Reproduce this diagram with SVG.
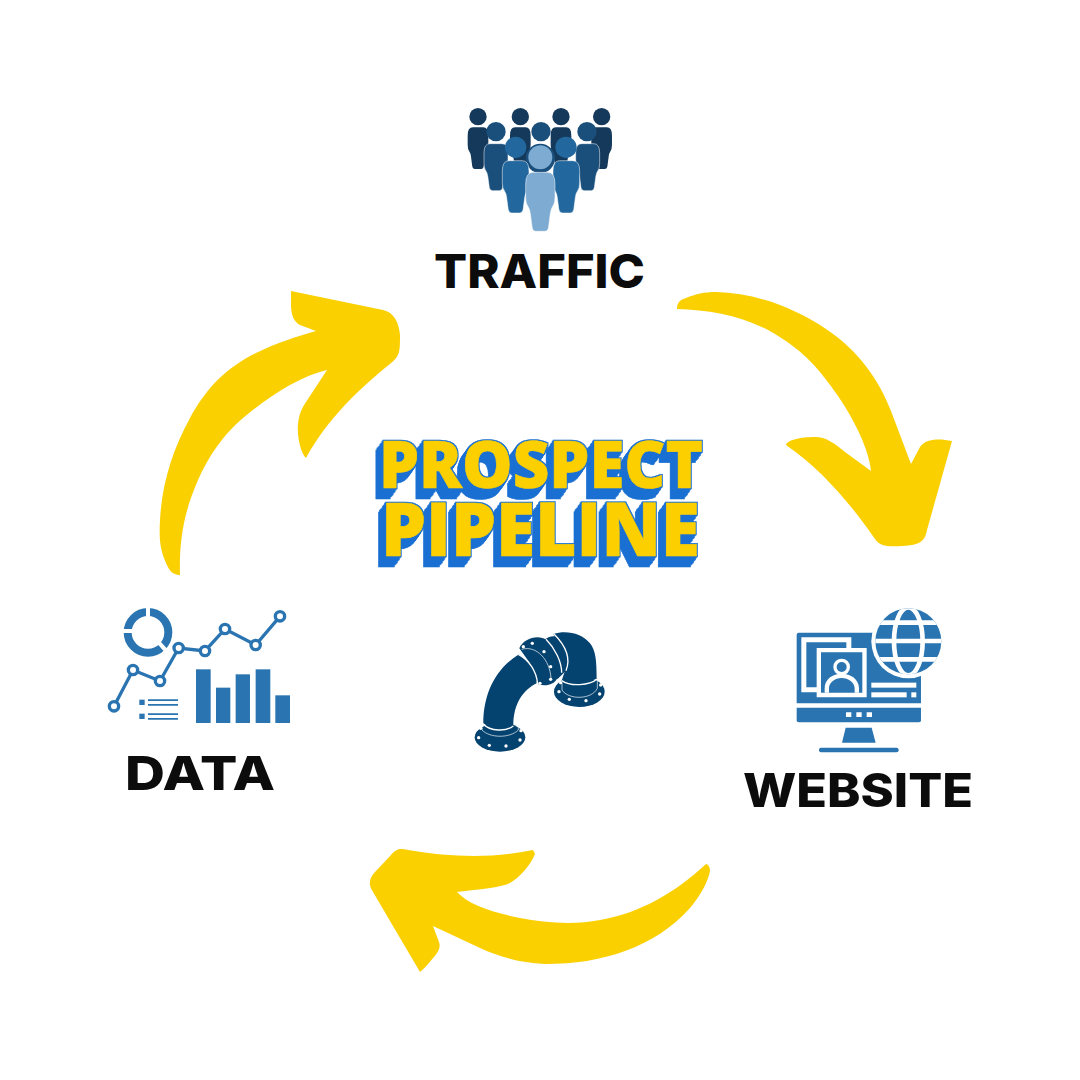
<svg xmlns="http://www.w3.org/2000/svg" width="1080" height="1080" viewBox="0 0 1080 1080">
<style>
.lbl{font-family:"Inter","Liberation Sans",sans-serif;font-weight:800;font-size:47px;fill:#0c0c0c}
.tt{font-family:"Open Sans","Liberation Sans",sans-serif;font-weight:800;fill:#fccf00;stroke:#fccf00;stroke-width:.6px;filter:url(#ext)}
.arrow{fill:#fad000}
.b{fill:#2a75b1}
.w{fill:#fff}
.bd{vector-effect:non-scaling-stroke;stroke:#fff;stroke-width:.5}
.pipe{fill:#04426f}
</style>
<defs>
<filter id="ext" x="-10%" y="-10%" width="120%" height="140%" color-interpolation-filters="sRGB">
<feMorphology in="SourceAlpha" operator="dilate" radius="1" result="a"/>
<feOffset in="a" dx="-1" dy="1.4" result="o1"/>
<feOffset in="a" dx="-2" dy="2.8" result="o2"/>
<feOffset in="a" dx="-3" dy="4.2" result="o3"/>
<feOffset in="a" dx="-4" dy="5.6" result="o4"/>
<feOffset in="a" dx="-5" dy="7" result="o5"/>
<feOffset in="a" dx="-6" dy="8.4" result="o6"/>
<feOffset in="a" dx="-7" dy="9.800" result="o7"/>
<feMerge result="m"><feMergeNode in="a"/><feMergeNode in="o1"/><feMergeNode in="o2"/><feMergeNode in="o3"/><feMergeNode in="o4"/><feMergeNode in="o5"/><feMergeNode in="o6"/><feMergeNode in="o7"/></feMerge>
<feFlood flood-color="#1a70d2"/>
<feComposite in2="m" operator="in" result="s"/>
<feMerge><feMergeNode in="s"/><feMergeNode in="SourceGraphic"/></feMerge>
</filter>
<path id="body" class="bd" d="M-.5 .2Q-.5 0-.25 0H.25Q.5 0 .5 .2V.42Q.5 .53 .42 .58Q.36 .62 .34 .7L.28 .93Q.26 1 .15 1H-.15Q-.26 1-.28 .93L-.34 .7Q-.36 .62-.42 .58Q-.5 .53-.5 .42Z"/>
<path id="bd2" d="M-.5 .2Q-.5 0-.25 0H.25Q.5 0 .5 .2V.42Q.5 .53 .42 .58Q.36 .62 .34 .7L.28 .93Q.26 1 .15 1H-.15Q-.26 1-.28 .93L-.34 .7Q-.36 .62-.42 .58Q-.5 .53-.5 .42Z"/>
<clipPath id="gl"><circle cx="385" cy="139" r="99"/></clipPath>
</defs>
<rect width="1080" height="1080" fill="#fff"/>

<g id="connectors">
<path class="arrow" d="M677 309C677 302 680 300 686 298C696 294 704 292 716 292C755 293 793 307 826 329C859 351 879 380 891 411L911 464L920 447C925 439 938 438 952 441L927 530C925 541 920 545 903 546C886 547 880 546 875 539C850 503 822 470 786 445C787 440 800 437 815 437C826 437 834 443 845 452L871 471C869 450 855 421 838 396C820 370 805 352 775 334C745 316 710 310 677 309Z"/>
<path class="arrow" d="M291 291L383 310C394 312 399 323 400 335C400 352 400 356 390 364C360 388 328 418 306 458C300 452 297 435 298 424C299 414 302 408 306 402L327 370C300 376 268 397 243 418C224 434 209 455 198 480C184 512 179 540 180 575C172 575 169 570 166 563C160 549 159 540 160 520C162 484 172 451 190 418C207 387 226 368 256 353C276 343 298 336 316 331L300 325C294 322 291 315 291 305Z"/>
<path class="arrow" d="M706 864C708 864 710 867 710 871C708 882 700 896 690 908C672 928 650 942 625 951C600 960 575 964 545 964C520 963 500 957 480 948L433 926L439 942C441 948 438 952 434 957C429 963 425 968 420 972L373 892C368 884 369 879 375 872L391 855C396 849 400 848 408 850C450 857 490 859 533 850L535 854C530 866 520 877 510 883C500 888 480 889 457 892C468 904 490 912 520 918C545 923 575 925 600 920C640 913 675 893 706 864Z"/>
</g>

<g id="title">
<text class="tt" x="379" y="488" font-size="65" textLength="324" lengthAdjust="spacingAndGlyphs">PROSPECT</text>
<text class="tt" x="381" y="556" font-size="74" textLength="319" lengthAdjust="spacingAndGlyphs">PIPELINE</text>
</g>

<g id="traffic">
<g transform="translate(460 100) scale(.3333)">
<g fill="#15395a">
<circle cx="54" cy="50" r="26"/><circle cx="181" cy="50" r="26"/><circle cx="303" cy="50" r="26"/><circle cx="425" cy="50" r="26"/>
<use href="#bd2" transform="translate(54 82) scale(62 125)"/><use href="#bd2" transform="translate(181 82) scale(62 125)"/><use href="#bd2" transform="translate(303 82) scale(62 125)"/><use href="#bd2" transform="translate(425 82) scale(62 125)"/>
</g>
<g fill="#1a4f7c">
<circle cx="108" cy="95" r="29"/><circle cx="243" cy="95" r="29"/><circle cx="381" cy="95" r="29"/>
<use href="#body" transform="translate(108 131) scale(72 141)"/><use href="#body" transform="translate(383 131) scale(72 141)"/>
<circle cx="241" cy="175" r="44"/>
</g>
<g fill="#22689f">
<circle cx="167" cy="142" r="32"/><circle cx="318" cy="142" r="32"/>
<use href="#body" transform="translate(167 182) scale(80 157)"/><use href="#body" transform="translate(319 182) scale(80 157)"/>
</g>
<g fill="#7eabd1">
<circle cx="241" cy="172" r="36"/>
<use href="#body" transform="translate(241 217) scale(88 177)"/>
</g>
</g>
<text class="lbl" x="434" y="288" textLength="211" lengthAdjust="spacingAndGlyphs">TRAFFIC</text>
</g>

<g id="website">
<g transform="translate(780 595) scale(.3333)">
<path class="b" d="M56 113H423V325H50V119Q50 113 56 113Z"/>
<path class="b" d="M50 338H423V376Q423 382 417 382H56Q50 382 50 376Z"/>
<path class="w" d="M198 352h16v14h-16zM229 352h16v14h-16zM260 352h16v14h-16z"/>
<path class="b" d="M197 398H275L287 443H186Z"/>
<rect class="b" x="117" y="458" width="239" height="14" rx="6"/>
<path class="w" fill-rule="evenodd" d="M64 127H214V159H260V307H110V292H64ZM79 142V277H110V159H199V142ZM123 172V293H247V172Z"/>
<circle class="w" cx="185" cy="216" r="25"/><circle class="b" cx="185" cy="216" r="15"/>
<path class="w" d="M134 293V280C134 252 158 236 185 236C212 236 237 252 237 280V293H224V280C224 262 205 249 185 249C165 249 147 262 147 280V293Z"/>
<rect class="w" x="274" y="263" width="135" height="15"/><rect class="w" x="274" y="292" width="106" height="15"/><rect class="w" x="394" y="292" width="15" height="15"/>
<circle class="w" cx="385" cy="139" r="111"/>
<circle class="b" cx="385" cy="139" r="99"/>
<g fill="none" stroke="#fff" stroke-width="14" clip-path="url(#gl)">
<ellipse cx="385" cy="139" rx="43" ry="102"/>
<path d="M280 83H490M275 138H495M280 193H490"/>
</g>
</g>
<text class="lbl" x="743" y="807" textLength="230" lengthAdjust="spacingAndGlyphs">WEBSITE</text>
</g>

<g id="data">
<g transform="translate(100 600) scale(.3333)">
<circle cx="144" cy="97" r="61" fill="none" stroke="#2a75b1" stroke-width="24"/>
<rect class="w" x="138" y="20" width="12" height="30"/>
<rect class="w" x="66" y="87" width="30" height="12"/>
<path fill="none" stroke="#fff" stroke-width="12" d="M168 118L198 152"/>
<path fill="none" stroke="#2a75b1" stroke-width="10" d="M42 319L99 210L180 243L236 144L315 153L375 87L467 135L540 49"/>
<g fill="#fff" stroke="#2a75b1" stroke-width="10">
<circle cx="42" cy="319" r="14"/><circle cx="99" cy="210" r="14"/><circle cx="180" cy="243" r="14"/><circle cx="236" cy="144" r="14"/><circle cx="315" cy="153" r="14"/><circle cx="375" cy="87" r="14"/><circle cx="467" cy="135" r="14"/><circle cx="540" cy="49" r="14"/>
</g>
<rect class="b" x="118" y="299" width="16" height="16"/><rect class="b" x="118" y="341" width="16" height="16"/>
<path class="b" d="M144 298H234V303H144ZM144 312H234V317H144ZM144 340H234V345H144ZM144 354H234V359H144Z"/>
<rect class="b" x="288" y="208" width="44" height="161"/>
<rect class="b" x="348" y="263" width="43" height="106"/>
<rect class="b" x="407" y="223" width="43" height="146"/>
<rect class="b" x="467" y="208" width="44" height="161"/>
<rect class="b" x="526" y="286" width="44" height="83"/>
</g>
<text class="lbl" x="125" y="790" textLength="150" lengthAdjust="spacingAndGlyphs">DATA</text>
</g>

<g id="pipe">
<g transform="translate(450 620) scale(.3333)">
<g class="pipe">
<ellipse cx="388" cy="215" rx="76" ry="46"/>
<path d="M310 42C350 30 395 40 420 70C437 92 440 120 440 178L335 182L345 152C350 130 345 95 325 70Z"/>
<path d="M285 58C300 48 315 45 325 55C350 85 362 130 345 155L322 178Z"/>
<path d="M208 85C220 55 265 42 290 60C318 95 330 140 322 175C310 197 285 200 262 192L240 130Z"/>
<ellipse cx="150" cy="352" rx="76" ry="43"/>
<path d="M100 310C100 230 130 150 207 103C235 120 258 150 260 190C220 210 190 250 190 318L150 345Z"/>
</g>
<g fill="none" stroke="#fff" stroke-width="4">
<path d="M100 312C120 335 170 335 190 318"/>
<path d="M205 103C238 120 260 155 263 193"/>
<path d="M288 58C315 85 335 125 335 158"/>
<path d="M312 42C340 70 365 110 348 152"/>
<path d="M335 182C360 200 420 197 440 178"/>
</g>
<g fill="none" stroke="#fff" stroke-width="2">
<path d="M215 88C260 75 300 120 303 175"/>
<path d="M336 188V210C355 240 425 240 442 205V182"/>
<path d="M96 316V330C120 355 180 355 205 330V320"/>
</g>
<g fill="#fff">
<circle cx="86" cy="353" r="5"/><circle cx="118" cy="376" r="5"/><circle cx="168" cy="378" r="5"/><circle cx="210" cy="360" r="5"/><circle cx="213" cy="332" r="5"/><circle cx="92" cy="325" r="5"/>
<circle cx="327" cy="215" r="5"/><circle cx="358" cy="238" r="5"/><circle cx="408" cy="242" r="5"/><circle cx="449" cy="222" r="5"/><circle cx="452" cy="195" r="5"/><circle cx="332" cy="188" r="5"/>
<circle cx="220" cy="80" r="5"/><circle cx="247" cy="70" r="5"/><circle cx="282" cy="95" r="5"/><circle cx="302" cy="140" r="5"/><circle cx="302" cy="178" r="5"/><circle cx="270" cy="190" r="5"/>
</g>
</g>
</g>
</svg>
